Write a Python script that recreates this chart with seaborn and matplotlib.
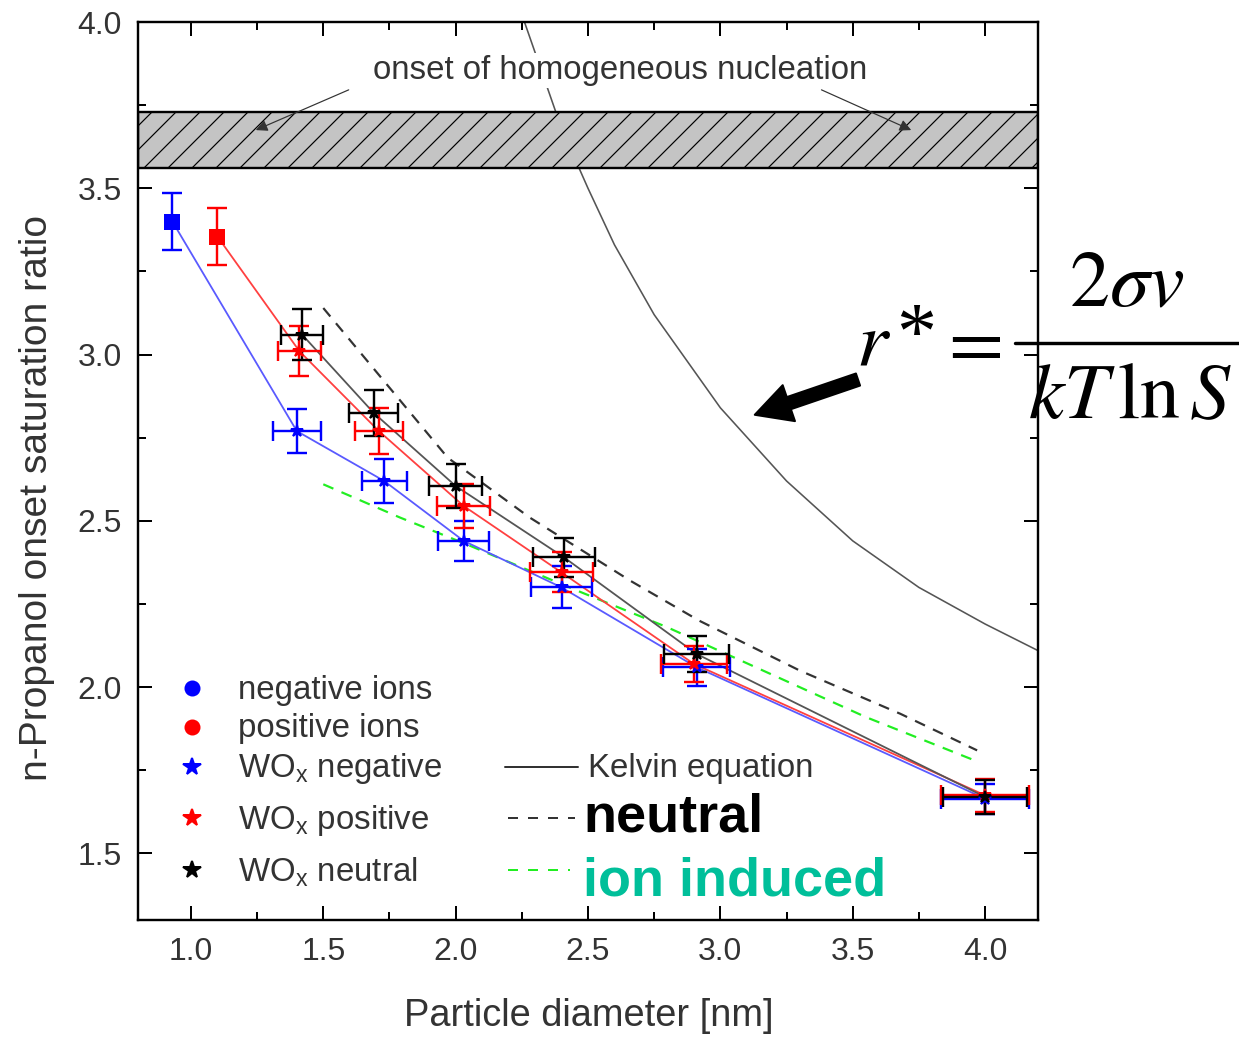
import numpy as np
import pandas as pd
import matplotlib
matplotlib.use("Agg")
import matplotlib.pyplot as plt
import seaborn as sns
from matplotlib.lines import Line2D
from matplotlib.ticker import MultipleLocator

# ---------------- data ----------------
neg_ion_x = [0.93]
neg_ion_y = [3.40]
neg_ion_yerr = [0.085]

pos_ion_x = [1.10]
pos_ion_y = [3.355]
pos_ion_yerr = [0.086]

wneg_x = [1.40, 1.73, 2.03, 2.40, 2.91, 4.00]
wneg_y = [2.77, 2.62, 2.44, 2.30, 2.06, 1.665]
wneg_xerr = [0.09, 0.085, 0.095, 0.115, 0.125, 0.165]
wneg_yerr = [0.065, 0.066, 0.060, 0.063, 0.055, 0.045]

wpos_x = [1.41, 1.71, 2.03, 2.40, 2.90, 4.00]
wpos_y = [3.01, 2.77, 2.545, 2.345, 2.07, 1.675]
wpos_xerr = [0.08, 0.09, 0.10, 0.12, 0.125, 0.165]
wpos_yerr = [0.075, 0.069, 0.065, 0.060, 0.055, 0.05]

wneu_x = [1.42, 1.69, 2.00, 2.41, 2.91, 4.00]
wneu_y = [3.06, 2.825, 2.605, 2.39, 2.10, 1.67]
wneu_xerr = [0.08, 0.092, 0.10, 0.117, 0.124, 0.16]
wneu_yerr = [0.077, 0.069, 0.065, 0.060, 0.055, 0.05]

neutral_x = [1.50, 1.97, 2.28, 2.66, 2.92, 3.30, 3.68, 3.97]
neutral_y = [3.14, 2.69, 2.51, 2.32, 2.20, 2.05, 1.92, 1.81]

ion_ind_x = [1.50, 1.79, 2.04, 2.46, 2.80, 3.05, 3.30, 3.55, 3.96]
ion_ind_y = [2.61, 2.51, 2.43, 2.29, 2.18, 2.09, 2.00, 1.91, 1.78]

kelvin_x = [2.26, 2.40, 2.50, 2.60, 2.75, 3.00, 3.25, 3.50, 3.75, 4.00, 4.20]
kelvin_y = [4.00, 3.68, 3.50, 3.33, 3.12, 2.84, 2.62, 2.44, 2.30, 2.19, 2.11]

band_lo, band_hi = 3.56, 3.73

legend_labels = ["negative ions", "positive ions", "WO$_\\mathregular{x}$ negative",
                 "WO$_\\mathregular{x}$ positive", "WO$_\\mathregular{x}$ neutral"]

# ---------------- style ----------------
sns.set_theme(style="ticks")
plt.rcParams["font.family"] = ["Liberation Sans", "DejaVu Sans"]
plt.rcParams["hatch.linewidth"] = 0.6
plt.rcParams["axes.linewidth"] = 1.2

W, H, DPI = 1239, 1037, 144
fig = plt.figure(figsize=(W / DPI, H / DPI), dpi=DPI)
fig.patch.set_facecolor("white")
ax = fig.add_axes([138 / W, (H - 920) / H, 900 / W, 898 / H])
ax.set_facecolor("white")

TXT = "#333333"

# Kelvin curve
sns.lineplot(x=kelvin_x, y=kelvin_y, ax=ax, color="#555555", lw=0.8,
             sort=False, estimator=None, zorder=2)
# theory dashed lines
sns.lineplot(x=neutral_x, y=neutral_y, ax=ax, color="#333333", lw=1.1,
             sort=False, estimator=None, zorder=2, linestyle=(0, (5, 4)))
sns.lineplot(x=ion_ind_x, y=ion_ind_y, ax=ax, color="#22ee22", lw=1.1,
             sort=False, estimator=None, zorder=2, linestyle=(0, (5, 4)))

# hatched band (homogeneous nucleation)
ax.axhspan(band_lo, band_hi, facecolor="#c4c4c4", edgecolor="black",
           hatch="//", lw=1.2, zorder=4)

# connecting lines
sns.lineplot(x=neg_ion_x + wneg_x, y=neg_ion_y + wneg_y, ax=ax, color="#5a5aff",
             lw=0.9, sort=False, estimator=None, zorder=3)
sns.lineplot(x=pos_ion_x + wpos_x, y=pos_ion_y + wpos_y, ax=ax, color="#ff4040",
             lw=0.9, sort=False, estimator=None, zorder=3)
sns.lineplot(x=wneu_x, y=wneu_y, ax=ax, color="#555555",
             lw=0.9, sort=False, estimator=None, zorder=3)

eb = dict(lw=1.2, capsize=5, capthick=1.2, zorder=5)
ax.errorbar(neg_ion_x, neg_ion_y, yerr=neg_ion_yerr, fmt="s", ms=7, color="blue", **eb)
ax.errorbar(pos_ion_x, pos_ion_y, yerr=pos_ion_yerr, fmt="s", ms=7, color="red", **eb)
ax.errorbar(wneg_x, wneg_y, xerr=wneg_xerr, yerr=wneg_yerr, fmt="*", ms=6.5, color="blue", **eb)
ax.errorbar(wpos_x, wpos_y, xerr=wpos_xerr, yerr=wpos_yerr, fmt="*", ms=6.5, color="red", **eb)
ax.errorbar(wneu_x, wneu_y, xerr=wneu_xerr, yerr=wneu_yerr, fmt="*", ms=6.5, color="black", **eb)

# axes
ax.set_xlim(0.8, 4.2)
ax.set_ylim(1.3, 4.0)
ax.xaxis.set_major_locator(MultipleLocator(0.5))
ax.xaxis.set_minor_locator(MultipleLocator(0.25))
ax.yaxis.set_major_locator(MultipleLocator(0.5))
ax.yaxis.set_minor_locator(MultipleLocator(0.25))
ax.tick_params(which="both", direction="in", top=True, right=True, colors="black",
               labelcolor=TXT, labelsize=16)
ax.tick_params(which="major", length=7, width=1.0)
ax.tick_params(which="minor", length=4, width=1.0)
ax.tick_params(axis="x", pad=8.5)
ax.tick_params(axis="y", pad=8)
ax.set_xticklabels([f"{v:.1f}" for v in ax.get_xticks()])
ax.set_yticklabels([f"{v:.1f}" for v in ax.get_yticks()])
for s in ax.spines.values():
    s.set_color("black")
    s.set_linewidth(1.2)
    s.set_zorder(6)

ax.set_xlabel("Particle diameter [nm]", fontsize=19, color=TXT)
ax.set_ylabel("n-Propanol onset saturation ratio", fontsize=19.5, color=TXT)
ax.xaxis.set_label_coords(0.501, -0.087)
ax.yaxis.set_label_coords(-0.092, 0.47)

# onset annotation
ax.text(2.62, 3.855, "onset of homogeneous nucleation", ha="center", va="center",
        fontsize=16.5, color=TXT, zorder=5,
        bbox=dict(facecolor="white", edgecolor="none", pad=1))
ap = dict(arrowstyle="-|>", color="#333333", lw=0.6, mutation_scale=12, shrinkA=0, shrinkB=0)
ax.annotate("", xy=(1.245, 3.675), xytext=(1.596, 3.796), arrowprops=ap, zorder=6)
ax.annotate("", xy=(3.721, 3.675), xytext=(3.382, 3.796), arrowprops=ap, zorder=6)

# big arrow pointing to Kelvin curve
ax.annotate("", xy=(3.13, 2.819), xytext=(3.52, 2.925),
            arrowprops=dict(arrowstyle="simple,head_length=0.9,head_width=0.95,tail_width=0.32",
                            facecolor="black", edgecolor="black", mutation_scale=20,
                            shrinkA=0, shrinkB=0), zorder=6)

# left legend (manual)
def axc(px, py):
    return ((px - 138) / 900, (920 - py) / 898)

leg_rows = [(688, "o", "blue", 7), (727, "o", "red", 7), (767, "*", "blue", 9),
            (818, "*", "red", 9), (870, "*", "black", 9)]
for (py, mk, col, ms), lab in zip(leg_rows, legend_labels):
    mx, my = axc(192, py)
    ax.plot([mx], [my], marker=mk, color=col, ms=ms, ls="none", transform=ax.transAxes,
            clip_on=False, zorder=6)
    tx, ty = axc(238, py + 2)
    ax.text(tx, ty, lab, transform=ax.transAxes, fontsize=16.5, color=TXT,
            ha="left", va="center", zorder=6)

# right legend (lines)
x0, _ = axc(505, 0)
x1, _ = axc(578, 0)
_, yk = axc(0, 767)
ax.add_line(Line2D([x0, x1], [yk, yk], color="#333333", lw=1.0, transform=ax.transAxes))
ax.text(axc(588, 0)[0], axc(0, 769)[1], "Kelvin equation", transform=ax.transAxes, fontsize=16.5,
        color=TXT, ha="left", va="center")
_, yn = axc(0, 818)
ax.add_line(Line2D([axc(508, 0)[0], axc(575, 0)[0]], [yn, yn], color="#333333", lw=1.0,
                   ls=(0, (5, 5)), transform=ax.transAxes))
ax.text(axc(583, 0)[0], axc(0, 817)[1], "neutral", transform=ax.transAxes, fontsize=27,
        fontweight="bold", color="black", ha="left", va="center")
_, yi = axc(0, 870)
ax.add_line(Line2D([axc(508, 0)[0], axc(570, 0)[0]], [yi, yi], color="#22ee22", lw=1.0,
                   ls=(0, (5, 5)), transform=ax.transAxes))
ax.text(axc(583, 0)[0], axc(0, 882)[1], "ion induced", transform=ax.transAxes, fontsize=27,
        fontweight="bold", color="#00bf9a", ha="left", va="center")

# Kelvin equation text (figure coordinates)
def fc(px, py):
    return (px / W, 1 - py / H)

eq = dict(fontsize=40, color="black", math_fontfamily="stix")
fig.text(*fc(856, 345), r"$r$", ha="left", va="center", **eq)
fig.text(*fc(916, 338), "*", ha="center", va="center", fontsize=40,
         family=["Liberation Serif", "DejaVu Serif"], color="black")
fig.text(*fc(969, 345), r"$=$", ha="center", va="center", **eq)
fig.add_artist(Line2D([1015 / W, 1239 / W], [1 - 343 / H, 1 - 343 / H], color="black",
                      lw=1.7, transform=fig.transFigure))
fig.text(*fc(1127, 285), r"$2\sigma v$", ha="center", va="center", **eq)
fig.text(*fc(1130, 398), r"$kT\,\ln S$", ha="center", va="center", **eq)

fig.savefig("out.png", dpi=DPI, facecolor="white")
